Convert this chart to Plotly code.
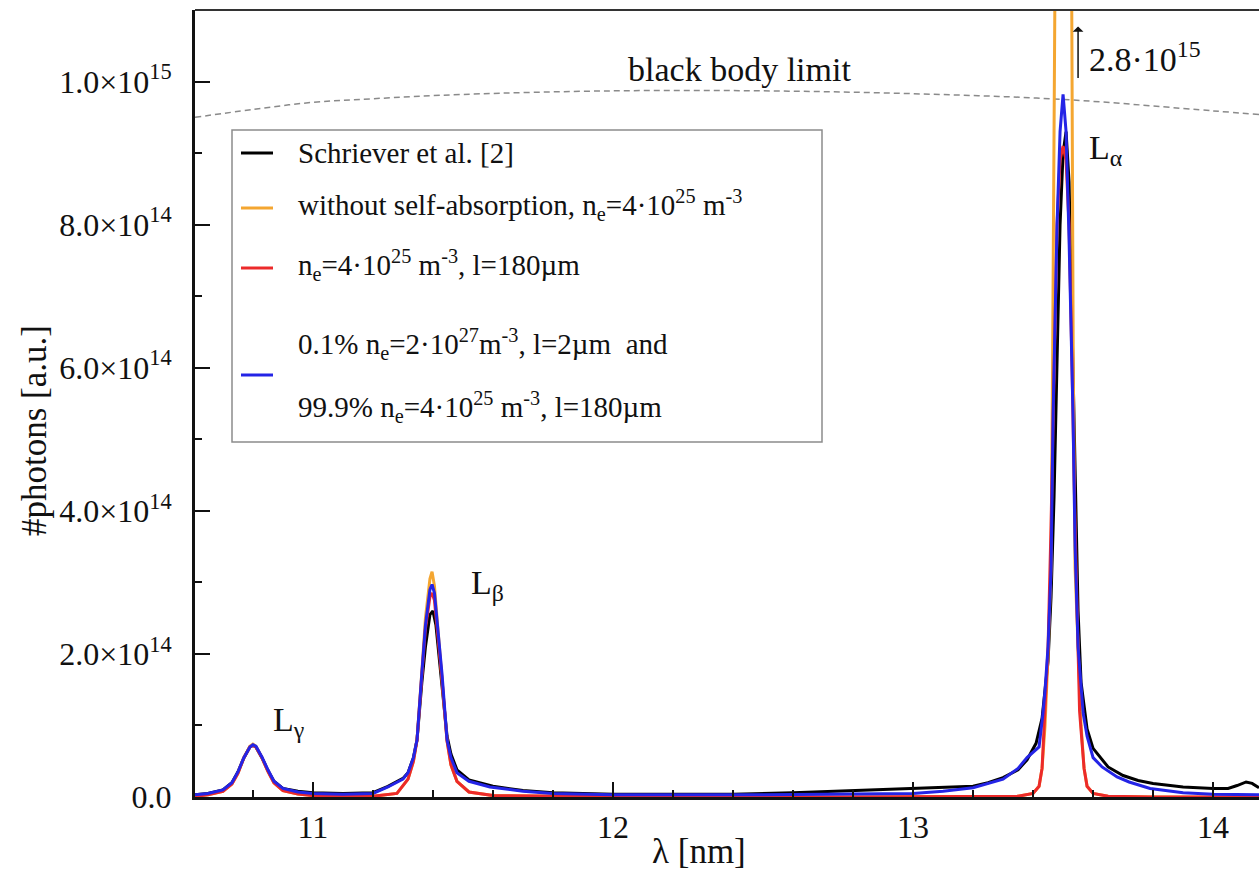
import numpy as np
import plotly.graph_objects as go

# Wavelengths in nm, photon counts in units of 1e14
black_wl = [10.607, 10.65, 10.70, 10.73, 10.75, 10.77, 10.79, 10.80, 10.81, 10.83, 10.85, 10.87, 10.90, 10.95,
            11.00, 11.10, 11.20, 11.25, 11.30, 11.317, 11.335, 11.347, 11.363, 11.375, 11.39, 11.40, 11.41,
            11.43, 11.447, 11.46, 11.48, 11.52, 11.60, 11.70, 11.80, 12.00, 12.20, 12.40, 12.60, 12.80,
            13.00, 13.10, 13.20, 13.25, 13.30, 13.35, 13.38, 13.41, 13.43, 13.45, 13.46, 13.47, 13.48, 13.49,
            13.50, 13.51, 13.52, 13.53, 13.54, 13.55, 13.56, 13.58, 13.60, 13.65, 13.70, 13.75, 13.80, 13.90,
            14.00, 14.05, 14.08, 14.11, 14.13, 14.153]
black_val = [0.03, 0.05, 0.10, 0.20, 0.35, 0.55, 0.70, 0.72, 0.70, 0.55, 0.37, 0.22, 0.12, 0.08,
             0.06, 0.05, 0.06, 0.15, 0.26, 0.34, 0.55, 0.80, 1.60, 2.10, 2.55, 2.60, 2.40,
             1.60, 0.85, 0.60, 0.38, 0.24, 0.15, 0.09, 0.06, 0.04, 0.04, 0.04, 0.06, 0.09,
             0.12, 0.13, 0.15, 0.20, 0.27, 0.38, 0.52, 0.75, 1.10, 1.90, 2.80, 4.20, 6.00, 8.00,
             9.00, 9.30, 8.60, 6.50, 4.30, 2.60, 1.60, 0.95, 0.68, 0.42, 0.30, 0.23, 0.19, 0.14,
             0.12, 0.12, 0.16, 0.21, 0.19, 0.13]

orange_wl = [10.607, 10.65, 10.70, 10.73, 10.75, 10.77, 10.79, 10.80, 10.81, 10.83, 10.85, 10.87, 10.90, 10.95,
             11.00, 11.10, 11.20, 11.28, 11.317, 11.335, 11.347, 11.363, 11.375, 11.39, 11.397, 11.405,
             11.415, 11.43, 11.447, 11.46, 11.48, 11.52, 11.60, 11.80, 12.20, 12.80, 13.20, 13.35, 13.40,
             13.42, 13.43, 13.44, 13.45, 13.46, 13.465, 13.468, 13.48, 13.49, 13.498, 13.51, 13.52, 13.53,
             13.534, 13.54, 13.55, 13.56, 13.57, 13.58, 13.60, 13.65, 13.80, 14.153]
orange_val = [0.01, 0.03, 0.08, 0.18, 0.33, 0.55, 0.71, 0.74, 0.71, 0.55, 0.36, 0.20, 0.09, 0.04,
              0.02, 0.01, 0.01, 0.05, 0.25, 0.50, 0.80, 1.75, 2.50, 3.05, 3.15, 2.95,
              2.45, 1.70, 0.78, 0.45, 0.22, 0.07, 0.02, 0.01, 0.00, 0.00, 0.00, 0.01, 0.05,
              0.15, 0.40, 1.00, 2.00, 3.20, 6.00, 11.0, 20.0, 26.0, 28.0, 26.0, 20.0, 11.0,
              6.00, 3.20, 2.00, 1.00, 0.40, 0.15, 0.05, 0.01, 0.00, 0.00]

red_wl = [10.607, 10.65, 10.70, 10.73, 10.75, 10.77, 10.79, 10.80, 10.81, 10.83, 10.85, 10.87, 10.90, 10.95,
          11.00, 11.10, 11.20, 11.28, 11.317, 11.335, 11.347, 11.363, 11.375, 11.39, 11.397, 11.405,
          11.415, 11.43, 11.447, 11.46, 11.48, 11.52, 11.60, 11.80, 12.20, 12.80, 13.20, 13.35, 13.40,
          13.42, 13.43, 13.44, 13.45, 13.46, 13.47, 13.48, 13.49, 13.50, 13.51, 13.52, 13.53, 13.54,
          13.555, 13.56, 13.57, 13.58, 13.60, 13.65, 13.80, 14.153]
red_val = [0.01, 0.03, 0.08, 0.18, 0.33, 0.55, 0.70, 0.72, 0.70, 0.55, 0.36, 0.20, 0.09, 0.04,
           0.02, 0.01, 0.01, 0.05, 0.25, 0.50, 0.80, 1.70, 2.35, 2.80, 2.85, 2.75,
           2.35, 1.65, 0.78, 0.45, 0.22, 0.07, 0.02, 0.01, 0.00, 0.00, 0.00, 0.01, 0.05,
           0.15, 0.40, 1.20, 2.10, 3.80, 6.00, 8.00, 8.90, 9.10, 8.90, 8.00, 6.00, 3.80,
           1.20, 0.90, 0.40, 0.15, 0.05, 0.01, 0.00, 0.00]

blue_wl = [10.607, 10.65, 10.70, 10.73, 10.75, 10.77, 10.79, 10.80, 10.81, 10.83, 10.85, 10.87, 10.90, 10.95,
           11.00, 11.10, 11.20, 11.25, 11.30, 11.317, 11.335, 11.347, 11.363, 11.375, 11.39, 11.397, 11.405,
           11.415, 11.43, 11.447, 11.46, 11.48, 11.52, 11.59, 11.70, 11.80, 12.00, 12.50, 13.00, 13.10,
           13.20, 13.30, 13.35, 13.38, 13.42, 13.433, 13.44, 13.45, 13.46, 13.467, 13.48, 13.49, 13.50,
           13.51, 13.52, 13.533, 13.54, 13.55, 13.567, 13.58, 13.60, 13.63, 13.68, 13.72, 13.79, 13.90,
           14.00, 14.153]
blue_val = [0.03, 0.05, 0.10, 0.20, 0.35, 0.55, 0.70, 0.73, 0.71, 0.56, 0.38, 0.22, 0.12, 0.07,
            0.05, 0.04, 0.05, 0.14, 0.25, 0.34, 0.55, 0.80, 1.73, 2.40, 2.90, 2.97, 2.85,
            2.40, 1.73, 0.80, 0.55, 0.34, 0.22, 0.14, 0.08, 0.05, 0.03, 0.03, 0.05, 0.08,
            0.13, 0.25, 0.40, 0.55, 0.70, 1.17, 1.50, 2.10, 3.20, 5.37, 8.00, 9.30, 9.82,
            9.30, 7.80, 5.37, 3.50, 2.10, 1.17, 0.85, 0.55, 0.42, 0.28, 0.21, 0.12, 0.06,
            0.04, 0.03]

bb_wl = [10.607, 10.8, 11.0, 11.2, 11.5, 12.0, 12.5, 13.0, 13.5, 14.0, 14.153]
bb_val = [9.50, 9.61, 9.71, 9.76, 9.82, 9.87, 9.87, 9.83, 9.75, 9.59, 9.54]

y_tick_vals = [0, 2, 4, 6, 8, 10]
y_tick_text = ["0.0", "2.0×10<sup>14</sup>", "4.0×10<sup>14</sup>", "6.0×10<sup>14</sup>",
               "8.0×10<sup>14</sup>", "1.0×10<sup>15</sup>"]
x_tick_vals = [11, 12, 13, 14]

legend_labels = [
    ["Schriever et al. [2]"],
    ["without self-absorption, n<sub>e</sub>=4·10<sup>25</sup> m<sup>-3</sup>"],
    ["n<sub>e</sub>=4·10<sup>25</sup> m<sup>-3</sup>, l=180µm"],
    ["0.1% n<sub>e</sub>=2·10<sup>27</sup>m<sup>-3</sup>, l=2µm  and",
     "99.9% n<sub>e</sub>=4·10<sup>25</sup> m<sup>-3</sup>, l=180µm"],
]
colors = ["#000000", "#f4a631", "#ec2a2a", "#2424e6"]
series = [(black_wl, black_val), (orange_wl, orange_val), (red_wl, red_val), (blue_wl, blue_val)]

SCALE = 1e14
FONT = "Liberation Serif, Times New Roman, serif"
INK = "#111111"

# plot-area geometry in pixels
W, H = 1259, 875
ML, MR, MT, MB = 195, 0, 10, 78
PW, PH = W - ML - MR, H - MT - MB


def px(x):
    return (x - ML) / PW


def py(y):
    return (H - MB - y) / PH


fig = go.Figure()

fig.add_trace(go.Scatter(
    x=bb_wl, y=np.array(bb_val) * SCALE, mode="lines", line_shape="spline",
    line=dict(color="#8a8a8a", width=1.5, dash="6px,4px"), showlegend=False, hoverinfo="skip"))

for (wl, val), lab, col in zip(series, legend_labels, colors):
    fig.add_trace(go.Scatter(
        x=wl, y=np.array(val) * SCALE, mode="lines", name=" ".join(lab),
        line=dict(color=col, width=3), showlegend=False))

tick_font = dict(family=FONT, size=32, color=INK)

fig.update_xaxes(
    range=[10.607, 14.153], tickvals=x_tick_vals, ticks="inside", ticklen=15, tickwidth=1.5,
    tickcolor=INK, showline=True, linewidth=3, linecolor=INK, showgrid=False, zeroline=False,
    minor=dict(dtick=0.2, ticks="inside", ticklen=7, tickwidth=1.5, tickcolor=INK),
    tickfont=tick_font)

fig.update_yaxes(
    range=[0, 1.1e15], tickvals=[v * SCALE for v in y_tick_vals], ticktext=y_tick_text,
    ticks="inside", ticklen=15, tickwidth=1.5, tickcolor=INK, showline=True, linewidth=3,
    linecolor=INK, showgrid=False, zeroline=False, ticklabelstandoff=14,
    minor=dict(dtick=1e14, ticks="inside", ticklen=7, tickwidth=1.5, tickcolor=INK),
    tickfont=tick_font)

# frame line along the top of the plot area
fig.add_shape(type="line", xref="paper", yref="paper", x0=0, x1=1, y0=1, y1=1,
              line=dict(color="#333", width=2))

# axis titles
title_font = dict(family=FONT, size=35, color=INK)
fig.add_annotation(xref="paper", yref="paper", x=px(34), y=py(431), text="#photons [a.u.]",
                   textangle=-90, xanchor="center", yanchor="middle", showarrow=False, font=title_font)
fig.add_annotation(xref="paper", yref="paper", x=px(699), y=py(851), text="λ [nm]",
                   xanchor="center", yanchor="middle", showarrow=False, font=title_font)

# legend box, drawn in pixel positions of the plot area
fig.add_shape(type="rect", xref="paper", yref="paper", x0=px(232), x1=px(822), y0=py(442), y1=py(130),
              line=dict(color="#8c8c8c", width=1.5), fillcolor="white", layer="above")
legend_font = dict(family=FONT, size=29, color=INK)
sample_y = [153, 208, 268, 375]
text_y = [[153], [205], [265], [344, 407]]
for col, sy, tys, lab in zip(colors, sample_y, text_y, legend_labels):
    fig.add_shape(type="line", xref="paper", yref="paper", x0=px(241), x1=px(273), y0=py(sy), y1=py(sy),
                  line=dict(color=col, width=3), layer="above")
    for ty, line_text in zip(tys, lab):
        fig.add_annotation(xref="paper", yref="paper", x=px(296), y=py(ty), text=line_text,
                           xanchor="left", yanchor="middle", showarrow=False, font=legend_font)

ann_font = dict(family=FONT, size=34, color=INK)
fig.add_annotation(x=12.42, y=1.017e15, text="black body limit", showarrow=False, font=ann_font)
fig.add_annotation(x=13.55, y=1.077e15, ax=13.55, ay=1.003e15, axref="x", ayref="y",
                   showarrow=True, arrowhead=1, arrowsize=1.2, arrowwidth=1.5, arrowcolor=INK, text="")
fig.add_annotation(x=13.58, y=1.035e15, text="2.8·10<sup>15</sup>", showarrow=False, xanchor="left",
                   font=ann_font)
fig.add_annotation(x=13.58, y=0.905e15, text="L<sub>α</sub>", showarrow=False, xanchor="left", font=ann_font)
fig.add_annotation(x=11.52, y=0.297e15, text="L<sub>β</sub>", showarrow=False, xanchor="left", font=ann_font)
fig.add_annotation(x=10.86, y=0.105e15, text="L<sub>γ</sub>", showarrow=False, xanchor="left", font=ann_font)

fig.update_layout(
    width=W, height=H, margin=dict(l=ML, r=MR, t=MT, b=MB),
    paper_bgcolor="white", plot_bgcolor="white", showlegend=False,
)

fig.write_html("out.html")
